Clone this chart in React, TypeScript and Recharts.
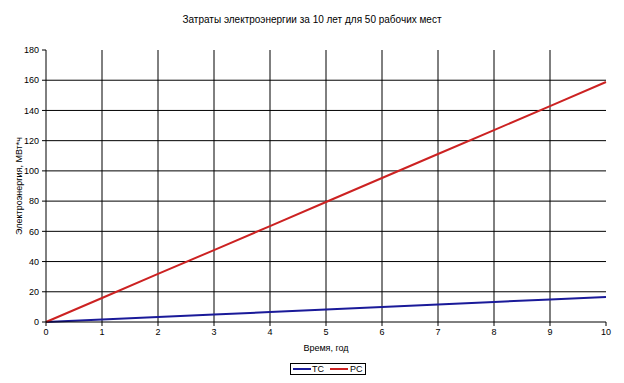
import React from 'react';
import { LineChart, Line, XAxis, YAxis, Legend, ReferenceLine } from 'recharts';

const years = [0, 1, 2, 3, 4, 5, 6, 7, 8, 9, 10];
const tcValues = [0, 1.7, 3.3, 5.0, 6.6, 8.3, 10.0, 11.6, 13.3, 14.9, 16.6];
const rcValues = [0, 15.9, 31.8, 47.6, 63.5, 79.4, 95.3, 111.2, 127.0, 142.9, 158.8];
const yTicks = [0, 20, 40, 60, 80, 100, 120, 140, 160, 180];
const hGrid = [20, 40, 60, 80, 100, 120, 140, 160];
const vGrid = [1, 2, 3, 4, 5, 6, 7, 8, 9];

const FONT = '"Liberation Sans", Arial, sans-serif';

const chartData = years.map((year, i) => ({ year, tc: tcValues[i], rc: rcValues[i] }));

const renderLegend = () => (
  <div style={{ display: 'flex', justifyContent: 'flex-start', paddingTop: 6, paddingLeft: 290 }}>
    <div style={{ border: '1px solid #000', display: 'flex', alignItems: 'center', padding: '0 3px 0 2px', fontSize: 9, lineHeight: '10px', fontFamily: FONT, gap: 6 }}>
      <span style={{ display: 'flex', alignItems: 'center' }}>
        <span style={{ width: 18, height: 2, background: '#1a1a99', display: 'inline-block', marginRight: 1 }} />ТС
      </span>
      <span style={{ display: 'flex', alignItems: 'center' }}>
        <span style={{ width: 18, height: 2, background: '#cc2222', display: 'inline-block', marginRight: 2 }} />РС
      </span>
    </div>
  </div>
);

export default function App() {
  return (
    <div style={{ position: 'fixed', top: 0, left: 0, width: 624, height: 383, overflow: 'hidden', background: '#fff' }}>
      <div style={{ position: 'absolute', top: 14, left: 0, width: 624, textAlign: 'center', fontSize: 10, fontFamily: FONT }}>
        Затраты электроэнергии за 10 лет для 50 рабочих мест
      </div>
      <LineChart width={624} height={383} data={chartData} margin={{ top: 50, right: 18, left: 0, bottom: 0 }}>
        {hGrid.map((v) => (
          <ReferenceLine key={`h${v}`} y={v} stroke="#000" strokeWidth={1} ifOverflow="visible" />
        ))}
        {vGrid.map((v) => (
          <ReferenceLine key={`v${v}`} x={v} stroke="#000" strokeWidth={1} ifOverflow="visible" />
        ))}
        <XAxis
          dataKey="year"
          type="number"
          domain={[0, 10]}
          ticks={years}
          height={35}
          stroke="#000"
          tickSize={4}
          tickMargin={3}
          tick={{ fontSize: 9, fill: '#000', fontFamily: FONT }}
          label={{ value: 'Время, год', position: 'insideBottom', offset: 6, fontSize: 9, fill: '#000', fontFamily: FONT }}
        />
        <YAxis
          type="number"
          domain={[0, 180]}
          ticks={yTicks}
          width={46}
          stroke="#000"
          tickSize={4}
          tickMargin={3}
          tick={{ fontSize: 9, fill: '#000', fontFamily: FONT }}
          label={{ value: 'Электроэнергия, МВт*ч', angle: -90, position: 'insideLeft', offset: 19, fontSize: 9, fill: '#000', fontFamily: FONT, style: { textAnchor: 'middle' } }}
        />
        <Legend verticalAlign="bottom" height={26} content={renderLegend} />
        <Line type="linear" dataKey="tc" name="ТС" stroke="#1a1a99" strokeWidth={2} dot={false} isAnimationActive={false} />
        <Line type="linear" dataKey="rc" name="РС" stroke="#cc2222" strokeWidth={2} dot={false} isAnimationActive={false} />
      </LineChart>
    </div>
  );
}
